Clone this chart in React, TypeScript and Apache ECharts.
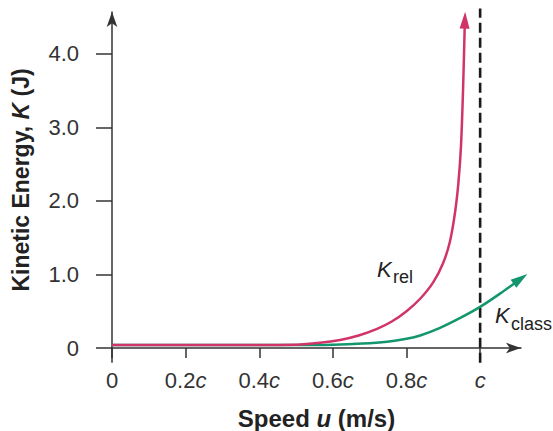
import React, { useEffect, useRef } from "react";
import * as echarts from "echarts";

// Relativistic kinetic energy curve (u in units of c, K in J)
const relU = [0, 0.3, 0.5, 0.565, 0.62, 0.67, 0.72, 0.76, 0.8, 0.837, 0.872, 0.899, 0.918, 0.932, 0.941, 0.948, 0.9535, 0.9585];
const relK = [0.04, 0.04, 0.045, 0.07, 0.11, 0.17, 0.26, 0.36, 0.5, 0.67, 0.89, 1.15, 1.45, 1.85, 2.25, 2.75, 3.5, 4.46];

// Classical kinetic energy curve
const classU = [0, 0.5, 0.6, 0.68, 0.747, 0.8, 0.837, 0.891, 0.946, 1.0, 1.054, 1.1095];
const classK = [0.04, 0.04, 0.045, 0.06, 0.085, 0.125, 0.17, 0.275, 0.41, 0.56, 0.74, 0.94];

// Short axis extensions below / left of the origin and the u = c guide
const xAxisExt = [[-0.0408, 0], [0, 0]];
const yAxisExt = [[0, -0.2], [0, 0]];
const cLine = [[1, -0.2], [1, 4.62]];

const xTicks = [0, 0.2, 0.4, 0.6, 0.8, 1];
const yTicks = [0, 1, 2, 3, 4];

const FONT = "Liberation Sans";
const RED = "#d13466";
const GREEN = "#13966e";
const AXIS = "#333";

export default function App() {
  const ref = useRef<HTMLDivElement>(null);
  useEffect(() => {
    document.body.style.margin = "0";
    const chart = echarts.init(ref.current!, undefined, { renderer: "svg" });
    const relData: any[] = relU.map((u, i) => [u, relK[i]]);
    relData[relData.length - 1] = {
      value: relData[relData.length - 1],
      symbol: "triangle",
      symbolSize: [10, 17],
      symbolRotate: -2,
    };
    const classData: any[] = classU.map((u, i) => [u, classK[i]]);
    classData[classData.length - 1] = {
      value: classData[classData.length - 1],
      symbol: "triangle",
      symbolSize: [10, 17],
      symbolRotate: -55,
    };
    const axisExt = (data: number[][]) => ({
      type: "line",
      data,
      clip: false,
      symbol: "none",
      silent: true,
      lineStyle: { color: AXIS, width: 1.5 },
      z: 1,
    });
    chart.setOption({
      animation: false,
      textStyle: { fontFamily: FONT },
      grid: { left: 112, right: 32, top: 12, bottom: 83, containLabel: false, outerBoundsMode: "none" },
      xAxis: {
        type: "value",
        min: 0,
        max: 1.111,
        name: "{b|Speed }{i|u}{b| (m/s)}",
        nameLocation: "middle",
        nameGap: 58,
        nameTextStyle: {
          rich: {
            b: { fontFamily: FONT, fontSize: 24, fontWeight: "bold", color: "#222" },
            i: { fontFamily: FONT, fontSize: 24, fontWeight: "bold", fontStyle: "italic", color: "#222" },
          },
        },
        axisLine: {
          onZero: false,
          symbol: ["none", "arrow"],
          symbolSize: [8, 15],
          lineStyle: { color: AXIS, width: 1.5 },
        },
        axisTick: { customValues: xTicks, length: 10, lineStyle: { color: AXIS, width: 1.5 } },
        axisLabel: {
          customValues: xTicks,
          margin: 21,
          formatter: (v: number) =>
            v === 0 ? "{n|0}" : v === 1 ? "{i|c}" : `{n|${v.toFixed(1)}}{i|c}`,
          rich: {
            n: { fontFamily: FONT, fontSize: 22, color: "#333" },
            i: { fontFamily: FONT, fontSize: 22, fontStyle: "italic", color: "#333" },
          },
        },
        splitLine: { show: false },
      },
      yAxis: {
        type: "value",
        min: 0,
        max: 4.571,
        name: "{b|Kinetic Energy, }{i|K}{b| (J)}",
        nameLocation: "middle",
        nameGap: 80,
        nameTextStyle: {
          rich: {
            b: { fontFamily: FONT, fontSize: 23, fontWeight: "bold", color: "#222" },
            i: { fontFamily: FONT, fontSize: 23, fontWeight: "bold", fontStyle: "italic", color: "#222" },
          },
        },
        axisLine: {
          onZero: false,
          symbol: ["none", "arrow"],
          symbolSize: [8, 15],
          lineStyle: { color: AXIS, width: 1.5 },
        },
        axisTick: { customValues: yTicks, length: 16, lineStyle: { color: AXIS, width: 1.5 } },
        axisLabel: {
          customValues: yTicks,
          margin: 33,
          fontFamily: FONT,
          fontSize: 22,
          color: "#333",
          formatter: (v: number) => (v === 0 ? "0" : v.toFixed(1)),
        },
        splitLine: { show: false },
      },
      series: [
        axisExt(xAxisExt),
        axisExt(yAxisExt),
        {
          type: "line",
          data: cLine,
          clip: false,
          symbol: "none",
          silent: true,
          lineStyle: { color: "#1a1a1a", width: 2.6, type: [10, 5] },
          z: 1,
        },
        {
          type: "line",
          data: classData,
          smooth: 0.3,
          clip: false,
          symbol: "none",
          showSymbol: true,
          itemStyle: { color: GREEN },
          lineStyle: { color: GREEN, width: 2.5 },
          z: 2,
        },
        {
          type: "line",
          data: relData,
          smooth: 0.3,
          clip: false,
          symbol: "none",
          showSymbol: true,
          itemStyle: { color: RED },
          lineStyle: { color: RED, width: 2.5 },
          z: 3,
        },
      ],
      graphic: [
        { type: "text", x: 377, y: 258, style: { text: "K", fontFamily: FONT, fontSize: 22, fontStyle: "italic", fill: "#222" } },
        { type: "text", x: 393, y: 268, style: { text: "rel", fontFamily: FONT, fontSize: 18, fill: "#222" } },
        { type: "text", x: 495, y: 304, style: { text: "K", fontFamily: FONT, fontSize: 22, fontStyle: "italic", fill: "#222" } },
        { type: "text", x: 511, y: 315, style: { text: "class", fontFamily: FONT, fontSize: 18, fill: "#222" } },
      ],
    });
    return () => chart.dispose();
  }, []);
  return <div ref={ref} style={{ width: 553, height: 431 }} />;
}
